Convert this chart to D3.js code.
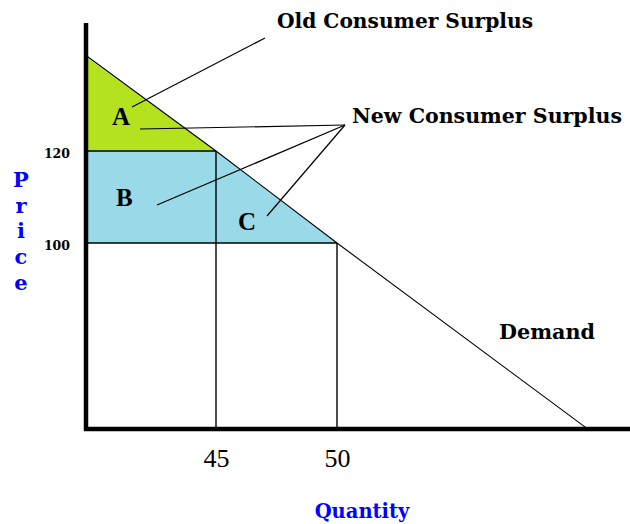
<!DOCTYPE html>
<html>
<head>
<meta charset="utf-8">
<script src="https://cdn.jsdelivr.net/npm/d3@7"></script>
<style>
  body { margin: 0; background: #fff; }
</style>
</head>
<body>
<div id="chart"></div>
<script>
// data (schematic consumer surplus diagram)
const quantityTicks = [45, 50];
const priceTicks = [100, 120];
const demand = [
  { q: 39.7, p: 140.5 },
  { q: 45, p: 120 },
  { q: 50, p: 100 },
  { q: 60.3, p: 59.8 },
];
const regionLabels = ["A", "B", "C"];

const width = 630,
  height = 524;

const svg = d3
  .select("#chart")
  .append("svg")
  .attr("width", width)
  .attr("height", height);

// scales: only 45/50 and 100/120 are meaningful, the axes are cut
const x = d3.scaleLinear().domain([45, 50]).range([216, 337]);
const y = d3.scaleLinear().domain([100, 120]).range([243, 151]);

const axisX = 86,
  axisY = 429;
const q0 = x.invert(axisX);
const dStart = demand[0];

const serif = "'DejaVu Serif', serif";
const times = "'Liberation Serif', 'Times New Roman', serif";

// surplus areas
svg
  .append("path")
  .attr(
    "d",
    d3.line()([
      [x(q0), y(dStart.p)],
      [x(45), y(120)],
      [x(q0), y(120)],
    ])
  )
  .attr("fill", "#b4e21e");

svg
  .append("path")
  .attr(
    "d",
    d3.line()([
      [x(q0), y(120)],
      [x(45), y(120)],
      [x(50), y(100)],
      [x(q0), y(100)],
    ])
  )
  .attr("fill", "#99d9e8");

// horizontal price lines and vertical quantity lines
const pairs = [
  { q: 45, p: 120 },
  { q: 50, p: 100 },
];
pairs.forEach((d) => {
  svg
    .append("line")
    .attr("x1", axisX)
    .attr("x2", x(d.q))
    .attr("y1", y(d.p))
    .attr("y2", y(d.p))
    .attr("stroke", "#000")
    .attr("stroke-width", 1.4);
  svg
    .append("line")
    .attr("x1", x(d.q))
    .attr("x2", x(d.q))
    .attr("y1", y(d.p))
    .attr("y2", axisY)
    .attr("stroke", "#000")
    .attr("stroke-width", 1.4);
});

// demand curve
svg
  .append("path")
  .datum(demand)
  .attr(
    "d",
    d3
      .line()
      .x((d) => x(d.q))
      .y((d) => y(d.p))
  )
  .attr("fill", "none")
  .attr("stroke", "#000")
  .attr("stroke-width", 1.1);

// axes (thick lines) with tick labels from d3 axis
svg
  .append("line")
  .attr("x1", axisX)
  .attr("x2", axisX)
  .attr("y1", 23)
  .attr("y2", axisY + 2)
  .attr("stroke", "#000")
  .attr("stroke-width", 4.5);
svg
  .append("line")
  .attr("x1", axisX - 2)
  .attr("x2", width)
  .attr("y1", axisY)
  .attr("y2", axisY)
  .attr("stroke", "#000")
  .attr("stroke-width", 4.5);

const gx = svg
  .append("g")
  .attr("transform", `translate(0,${axisY})`)
  .call(
    d3
      .axisBottom(x)
      .tickValues(quantityTicks)
      .tickFormat(d3.format("d"))
      .tickSize(0)
      .tickPadding(20)
  );
gx.select(".domain").remove();
gx.selectAll("text")
  .style("font-family", times)
  .style("font-size", "26px")
  .attr("fill", "#000");

const gy = svg
  .append("g")
  .attr("transform", `translate(${axisX},0)`)
  .call(
    d3
      .axisLeft(y)
      .tickValues(priceTicks)
      .tickFormat(d3.format("d"))
      .tickSize(0)
      .tickPadding(16)
  );
gy.select(".domain").remove();
gy.selectAll("text")
  .style("font-family", serif)
  .style("font-size", "12.5px")
  .style("font-weight", "bold")
  .attr("dy", "0.55em")
  .attr("fill", "#000");

// axis titles
const priceTitle = svg
  .append("text")
  .attr("fill", "#0000ff")
  .style("font-family", serif)
  .style("font-weight", "bold")
  .style("font-size", "21px")
  .attr("text-anchor", "middle");
const priceBase = [187, 213, 238, 264, 290];
"Price".split("").forEach((ch, i) => {
  priceTitle.append("tspan").attr("x", 21).attr("y", priceBase[i]).text(ch);
});

svg
  .append("text")
  .attr("x", 362)
  .attr("y", 518)
  .attr("text-anchor", "middle")
  .attr("fill", "#0000ff")
  .style("font-family", serif)
  .style("font-weight", "bold")
  .style("font-size", "19.5px")
  .text("Quantity");

// region letters
const letterPos = [
  [112, 125],
  [116, 206],
  [238, 230],
];
regionLabels.forEach((t, i) => {
  svg
    .append("text")
    .attr("x", letterPos[i][0])
    .attr("y", letterPos[i][1])
    .style("font-family", times)
    .style("font-weight", "bold")
    .style("font-size", "25px")
    .text(t);
});

// callout labels
const labels = [
  { text: "Old Consumer Surplus", x: 277, y: 28, w: 256 },
  { text: "New Consumer Surplus", x: 352, y: 123, w: 270 },
  { text: "Demand", x: 499, y: 339, w: 96 },
];
labels.forEach((d) => {
  svg
    .append("text")
    .attr("x", d.x)
    .attr("y", d.y)
    .attr("textLength", d.w)
    .attr("lengthAdjust", "spacingAndGlyphs")
    .style("font-family", serif)
    .style("font-weight", "bold")
    .style("font-size", "20px")
    .text(d.text);
});

// leader lines
const leaders = [
  [[132, 107], [265, 38]],
  [[140, 129], [345, 125]],
  [[157, 205], [345, 125]],
  [[267, 216], [345, 125]],
];
leaders.forEach((seg) => {
  svg
    .append("path")
    .attr("d", d3.line()(seg))
    .attr("stroke", "#000")
    .attr("stroke-width", 1.2)
    .attr("fill", "none");
});
</script>
</body>
</html>
